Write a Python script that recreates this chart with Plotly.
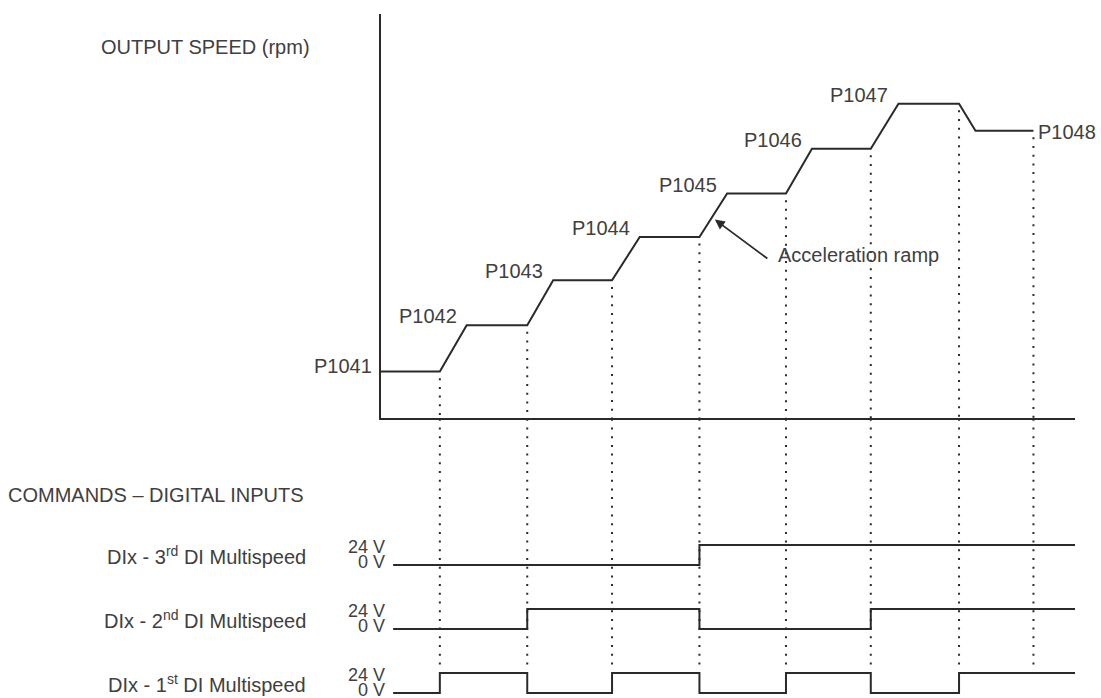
import plotly.graph_objects as go

# --- data ------------------------------------------------------------------
# command instants (time units along the common x axis)
switch_t = [0.68, 1.69, 2.67, 3.68, 4.68, 5.66, 6.68, 7.54]
# instants where each acceleration / deceleration ramp ends
ramp_end_t = [0.99, 1.99, 2.99, 4.00, 4.98, 5.98, 6.87]
# output speed level reached for each multispeed reference
speed_rpm = [155, 310, 460, 605, 750, 900, 1050, 960]
speed_names = ['P1041', 'P1042', 'P1043', 'P1044', 'P1045', 'P1046', 'P1047', 'P1048']

# digital inputs: state during each interval between command instants
di_start, di_end = 0.14, 8.02
di_3rd = [0, 0, 0, 0, 1, 1, 1, 1, 1]
di_2nd = [0, 0, 1, 1, 0, 0, 1, 1, 1]
di_1st = [0, 1, 0, 1, 0, 1, 0, 1, 1]
di_labels = ['DIx - 3<sup>rd</sup> DI Multispeed',
             'DIx - 2<sup>nd</sup> DI Multispeed',
             'DIx - 1<sup>st</sup> DI Multispeed']

# --- styling ----------------------------------------------------------------
W, H = 1101, 698
LINE = '#2a2a2a'
TEXT = '#404040'
FONT = 'Liberation Sans, Arial, sans-serif'
X_DOMAIN = [381 / W, 1075 / W]
ROW_BASE = [6.4, 3.2, 0.0]  # baseline of each digital row (3rd, 2nd, 1st)
Y2_RANGE = [-0.25, 13.71]

fig = go.Figure()

# speed profile: hold each level, then ramp to the next one
prof_x, prof_y = [0, switch_t[0]], [speed_rpm[0], speed_rpm[0]]
for i in range(1, len(speed_rpm)):
    prof_x += [ramp_end_t[i - 1], switch_t[i]]
    prof_y += [speed_rpm[i], speed_rpm[i]]
fig.add_trace(go.Scatter(x=prof_x, y=prof_y, mode='lines',
                         line=dict(color=LINE, width=2), xaxis='x', yaxis='y'))

# dotted guides, upper part (below the curve down to the time axis)
gx, gy = [], []
for t, lvl in zip(switch_t, speed_rpm):
    gx += [t, t, None]
    gy += [lvl - 22, 0, None]
fig.add_trace(go.Scatter(x=gx, y=gy, mode='lines',
                         line=dict(color=LINE, width=2, dash='2px,6.7px'),
                         xaxis='x', yaxis='y'))

# dotted guides, lower part (through the digital inputs)
gx2, gy2 = [], []
for t in switch_t:
    gx2 += [t, t, None]
    gy2 += [Y2_RANGE[1], 1.15, None]
fig.add_trace(go.Scatter(x=gx2, y=gy2, mode='lines',
                         line=dict(color=LINE, width=2, dash='2px,6.7px'),
                         xaxis='x2', yaxis='y2'))

# digital input waveforms
di_x = [di_start] + switch_t[:7] + [di_end]
for states, base in zip([di_3rd, di_2nd, di_1st], ROW_BASE):
    fig.add_trace(go.Scatter(x=di_x, y=[base + s for s in states], mode='lines',
                             line=dict(color=LINE, width=2, shape='hv'),
                             xaxis='x2', yaxis='y2'))

ann = []
font = dict(family=FONT, size=20, color=TEXT)
small = dict(family=FONT, size=18, color=TEXT)

# speed level labels
ann.append(dict(x=0, y=speed_rpm[0], text=speed_names[0], xanchor='right', yanchor='middle',
                xshift=-7, yshift=6, showarrow=False, font=font))
for i in range(1, 7):
    ann.append(dict(x=ramp_end_t[i - 1], y=speed_rpm[i], text=speed_names[i],
                    xanchor='right', yanchor='middle', xshift=-8, yshift=9,
                    showarrow=False, font=font))
ann.append(dict(x=switch_t[7], y=speed_rpm[7], text=speed_names[7], xanchor='left',
                yanchor='middle', xshift=3, yshift=-1, showarrow=False, font=font))

# acceleration ramp callout
tip_t = switch_t[3] + 0.4 * (ramp_end_t[3] - switch_t[3]) + 0.05
tip_v = speed_rpm[3] + 0.4 * (speed_rpm[4] - speed_rpm[3])
ann.append(dict(x=tip_t, y=tip_v, ax=54, ay=40, text='', showarrow=True,
                arrowhead=2, arrowsize=1.1, arrowwidth=1.8, arrowcolor=LINE))
ann.append(dict(x=tip_t, y=tip_v, text='Acceleration ramp', xanchor='left', yanchor='middle',
                xshift=61, yshift=-35, showarrow=False, font=font))

# section titles
ann.append(dict(xref='paper', yref='paper', x=99 / W, y=1 - 47 / H, text='OUTPUT SPEED (rpm)',
                xanchor='left', yanchor='middle', showarrow=False, font=font))
ann.append(dict(xref='paper', yref='paper', x=6 / W, y=1 - 495 / H,
                text='COMMANDS – DIGITAL INPUTS',
                xanchor='left', yanchor='middle', showarrow=False, font=font))

# digital input row labels
for label, base in zip(di_labels, ROW_BASE):
    ann.append(dict(xref='paper', yref='y2', x=308 / W, y=base + 0.5, text=label,
                    xanchor='right', yanchor='middle', showarrow=False, font=font))
    ann.append(dict(xref='paper', yref='y2', x=387 / W, y=base + 1, text='24 V',
                    xanchor='right', yanchor='middle', yshift=-2, showarrow=False, font=small))
    ann.append(dict(xref='paper', yref='y2', x=387 / W, y=base, text='0 V',
                    xanchor='right', yanchor='middle', yshift=3, showarrow=False, font=small))

hidden = dict(showgrid=False, zeroline=False, showticklabels=False, ticks='')
fig.update_layout(
    width=W, height=H,
    margin=dict(l=0, r=0, t=0, b=0),
    paper_bgcolor='white', plot_bgcolor='white',
    showlegend=False,
    font=font,
    xaxis=dict(domain=X_DOMAIN, range=[0, di_end], anchor='y', showline=True,
               linecolor=LINE, linewidth=2, **hidden),
    yaxis=dict(domain=[1 - 418 / H, 1 - 14 / H], range=[0, 1350], anchor='x', showline=True,
               linecolor=LINE, linewidth=2, **hidden),
    xaxis2=dict(domain=X_DOMAIN, matches='x', anchor='y2', visible=False),
    yaxis2=dict(domain=[0, 0.4], range=Y2_RANGE, anchor='x2', visible=False),
    annotations=ann,
)

# the page body has a default 8px margin; drop it so the figure fills the window
fig.write_html('out.html', config={'displayModeBar': False},
               post_script="document.body.style.margin='0';")
